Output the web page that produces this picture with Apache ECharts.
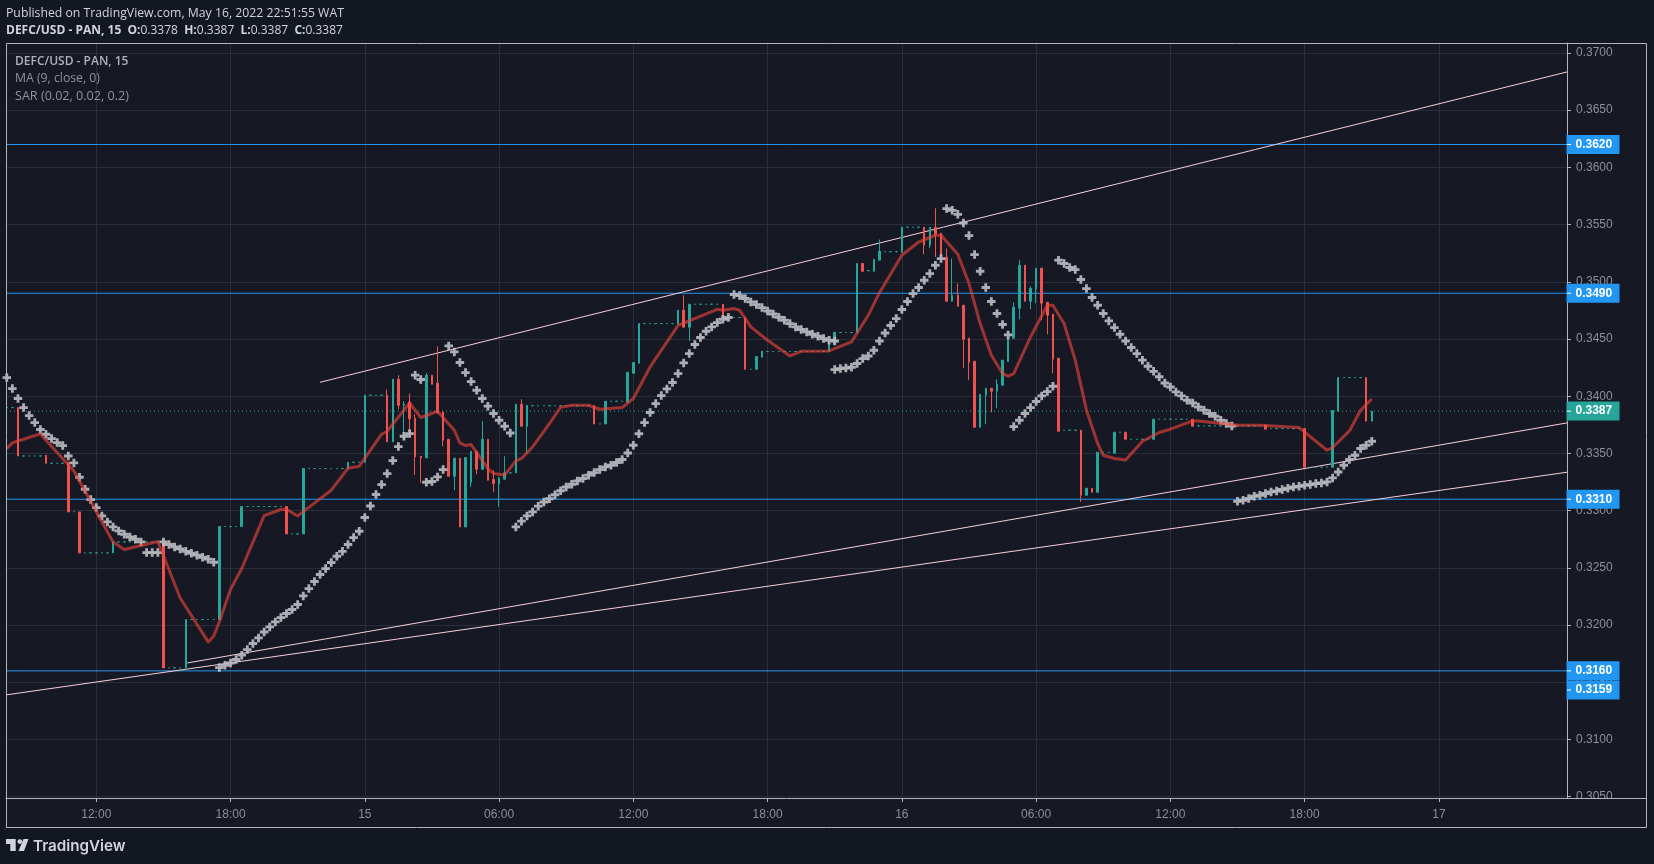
<!DOCTYPE html>
<html><head><meta charset="utf-8"><title>DEFC/USD</title>
<style>html,body{margin:0;padding:0;background:#131722}#c{width:1654px;height:864px}</style>
<script src="https://cdn.jsdelivr.net/npm/echarts@6/dist/echarts.min.js"></script></head>
<body><div id="c"></div>
<script>
// bar index 0 = the first 12:00 tick; one bar = 15 minutes
const xTickBars = [0,24,48,72,96,120,144,168,192,216,240];
const xTickLabels = ['12:00','18:00','15','06:00','12:00','18:00','16','06:00','12:00','18:00','17'];
const yTicks = [0.305,0.31,0.315,0.32,0.325,0.33,0.335,0.34,0.345,0.35,0.355,0.36,0.365,0.37];
const xMin = -16.14, xMax = 262.9, yMin = 0.30489, yMax = 0.37087;

// [bar, open, close, low, high]
const activeCandles = [
[-14,.33901,.33478,.33478,.33901],[-9,.33484,.33414,.33414,.33484],[-5,.33423,.32989,.32989,.33423],[-3,.32989,.32631,.32631,.32989],
[3,.32631,.32727,.32631,.32727],[12,.32727,.31626,.31626,.32727],[16,.31626,.32049,.31626,.32049],[22,.32049,.32861,.32049,.32861],
[26,.32861,.33036,.32861,.33036],[34,.33036,.32797,.32797,.33036],[37,.32797,.33368,.32797,.33368],[45,.33368,.33423,.33368,.33423],
[48,.33423,.34009,.33423,.34009],[52,.34009,.33601,.33601,.34059],[53,.33601,.34149,.33601,.34149],[54,.34149,.33921,.33886,.34184],
[55,.33924,.33932,.33615,.33956],[56,.33950,.33802,.33644,.34024],[57,.33808,.33470,.33312,.33843],[58,.33476,.33461,.33242,.33476],
[59,.33461,.34184,.33461,.34204],[60,.34184,.34105,.34105,.34184],[61,.34114,.33854,.33854,.34437],[62,.33863,.33615,.33563,.33863],
[63,.33624,.33301,.33301,.33624],[64,.33301,.33458,.33179,.33458],[65,.33458,.32858,.32858,.33458],[66,.32858,.33464,.32858,.33464],
[67,.33248,.33519,.33207,.33519],[68,.33519,.33362,.33318,.33519],[69,.33362,.33624,.33362,.33782],[70,.33624,.33266,.33266,.33624],
[71,.33272,.33237,.33161,.33353],[72,.33237,.33283,.33033,.33295],[73,.33275,.33330,.33275,.33476],[75,.33330,.33930,.33330,.33930],
[76,.33930,.33738,.33738,.33974],[77,.33738,.33921,.33499,.33921],[89,.33917,.33758,.33758,.33917],[91,.33758,.33956,.33758,.33956],
[95,.33948,.34210,.33948,.34210],[96,.34201,.34295,.34201,.34295],[97,.34288,.34635,.34288,.34635],[104,.34629,.34752,.34629,.34752],
[105,.34752,.34603,.34603,.34883],[106,.34603,.34804,.34483,.34804],[112,.34804,.34688,.34688,.34804],[116,.34688,.34236,.34236,.34688],
[118,.34236,.34347,.34230,.34347],[119,.34341,.34393,.34341,.34393],[131,.34391,.34475,.34391,.34475],[132,.34454,.34559,.34454,.34559],
[136,.34557,.35160,.34557,.35160],[137,.35160,.35092,.35092,.35160],[139,.35092,.35197,.35092,.35197],[140,.35189,.35267,.35189,.35369],
[144,.35258,.35477,.35258,.35477],[148,.35477,.35320,.35241,.35477],[149,.35320,.35477,.35293,.35477],[150,.35477,.35416,.35217,.35643],
[151,.35425,.35217,.35217,.35425],[152,.35215,.34830,.34830,.35291],[153,.34830,.34883,.34830,.35203],[154,.34883,.34787,.34787,.34985],
[155,.34795,.34498,.34245,.34795],[156,.34507,.34297,.34140,.34507],[157,.34306,.33729,.33729,.34306],[158,.33729,.34017,.33729,.34017],
[159,.34009,.34070,.33755,.34070],[160,.34070,.34044,.33860,.34070],[161,.34044,.34105,.33895,.34149],[162,.34096,.34315,.34096,.34315],
[163,.34303,.34498,.34303,.34498],[164,.34507,.34778,.34507,.34821],[165,.34769,.35145,.34673,.35189],[166,.35145,.34830,.34830,.35145],
[167,.34830,.34944,.34760,.34961],[168,.34935,.35119,.34813,.35119],[169,.35119,.34813,.34664,.35119],[170,.34821,.34708,.34542,.34821],
[171,.34717,.34323,.34201,.34717],[172,.34332,.33694,.33694,.34332],[176,.33703,.33135,.33076,.33703],[177,.33135,.33196,.33135,.33196],
[178,.33196,.33161,.33161,.33196],[179,.33161,.33511,.33161,.33511],[182,.33502,.33685,.33502,.33685],[184,.33685,.33624,.33624,.33685],
[189,.33624,.33799,.33624,.33799],[196,.33799,.33738,.33738,.33799],[209,.33747,.33712,.33712,.33747],[216,.33717,.33380,.33380,.33717],
[221,.33380,.33875,.33380,.33875],[222,.33869,.34163,.33869,.34163],[227,.34163,.33782,.33782,.34163],[228,.33782,.33869,.33782,.33869]
];
// bars with no trades: a flat dash at one price
const flatFrom = [-16,-13,-8,-4,-2,4,13,17,23,27,35,38,46,49,74,78,90,92,98,107,113,117,120,133,138,141,145,173,180,183,185,190,197,210,217,223];
const flatTo   = [-15,-10,-6,-4,2,11,15,21,25,33,36,44,47,51,74,88,90,94,103,111,115,117,130,135,138,143,147,175,181,183,188,195,208,215,220,226];
const flatPrice = [.33901,.33478,.33414,.32991,.32631,.32727,.31626,.32049,.32861,.33036,.32797,.33368,.33423,.34009,.33330,.33917,.33758,.33956,.34635,.34804,.34688,.34236,.34391,.34557,.35097,.35263,.35477,.33703,.33511,.33685,.33624,.33799,.33741,.33717,.33380,.34163];

// MA (9, close, 0), vertices of the drawn line
const maBars = [-16,-15,-14,-10,-4,3,5,11,15,20,21,22,24,26,30,33,34,36,42,45,47,51,52,56,58,61,64,65,66,67,70,71,73,75,76,78,81,83,85,88,90,94,96,99,104,111,112,114,115,117,120,124,126,131,135,138,140,144,147,150,151,154,156,158,160,162,163,164,167,170,171,173,175,177,179,180,182,184,187,190,192,196,197,204,208,215,220,221,224,226,228];
const maValues = [.33543,.33592,.33609,.33671,.33347,.32727,.32660,.32730,.32237,.31853,.31905,.32028,.32313,.32494,.32957,.33010,.33012,.32954,.33179,.33371,.33388,.33668,.33694,.33941,.33814,.33869,.33703,.33592,.33569,.33578,.33368,.33324,.33312,.33435,.33456,.33557,.33761,.33904,.33921,.33921,.33886,.33901,.33980,.34256,.34620,.34760,.34752,.34766,.34752,.34606,.34489,.34352,.34393,.34396,.34475,.34708,.34905,.35232,.35348,.35407,.35407,.35241,.34985,.34635,.34358,.34198,.34175,.34198,.34518,.34795,.34795,.34635,.34315,.33878,.33587,.33484,.33456,.33443,.33607,.33683,.33712,.33784,.33784,.33747,.33747,.33726,.33528,.33552,.33697,.33878,.33976];

// SAR (0.02, 0.02, 0.2): one list per run, each run starts at its bar
const sarStarts = [-16,9,12,22,57,59,63,75,114,132,152,164,172,204];
const sarRun1 = [.34163,.34067,.33980,.33901,.33831,.33770,.33709,.33668,.33630,.33595,.33569,.33478,.33417,.33292,.33187,.33097,.33027,.32954,.32902,.32858,.32823,.32794,.32770,.32750,.32727];
const sarRun2 = [.32634,.32634,.32634];
const sarRun3 = [.32727,.32704,.32683,.32666,.32645,.32628,.32611,.32593,.32576,.32549];
const sarRun4 = [.31629,.31649,.31669,.31699,.31737,.31786,.31839,.31888,.31940,.31984,.32028,.32066,.32101,.32136,.32180,.32255,.32319,.32381,.32442,.32494,.32547,.32602,.32645,.32704,.32765,.32820,.32940,.33041,.33141,.33228,.33324,.33438,.33560,.33650,.33674];
const sarRun5 = [.34184,.34146];
const sarRun6 = [.33248,.33255,.33295,.33359];
const sarRun7 = [.34440,.34387,.34295,.34207,.34128,.34052,.33980,.33913,.33849,.33790,.33738,.33679];
const sarRun8 = [.32858,.32908,.32954,.32989,.33039,.33076,.33104,.33139,.33174,.33207,.33231,.33260,.33281,.33310,.33333,.33359,.33382,.33397,.33421,.33447,.33504,.33572,.33672,.33770,.33858,.33936,.34006,.34064,.34120,.34198,.34291,.34373,.34452,.34513,.34568,.34606,.34644,.34673,.34688];
const sarRun9 = [.34889,.34880,.34854,.34824,.34801,.34775,.34745,.34719,.34690,.34664,.34635,.34606,.34583,.34562,.34542,.34524,.34504,.34489,.34483];
const sarRun10 = [.34233,.34242,.34247,.34253,.34286,.34329,.34352,.34402,.34483,.34553,.34618,.34679,.34758,.34828,.34897,.34950,.35014,.35072,.35145,.35203];
const sarRun11 = [.35640,.35625,.35590,.35514,.35404,.35238,.35092,.34950,.34828,.34723,.34627,.34536];
const sarRun12 = [.33735,.33790,.33849,.33901,.33954,.34003,.34041,.34087];
const sarRun13 = [.35189,.35160,.35125,.35107,.35020,.34941,.34863,.34795,.34723,.34658,.34600,.34542,.34483,.34426,.34373,.34315,.34262,.34218,.34170,.34116,.34081,.34038,.34003,.33965,.33941,.33906,.33878,.33849,.33825,.33790,.33761,.33740];
const sarRun14 = [.33082,.33091,.33106,.33126,.33135,.33150,.33164,.33172,.33185,.33196,.33207,.33213,.33222,.33228,.33237,.33242,.33251,.33286,.33338,.33397,.33447,.33484,.33543,.33572,.33607];

// drawn trend lines: [startBar, startPrice, endBar, endPrice]
const trendUpper = [40,.34122,262.9,.36834];
const trendMiddle = [16.27,.31669,262.9,.33767];
const trendLower = [-16.14,.31390,262.9,.33336];
const levelPrices = [.362,.349,.331,.316];
const lastPrice = .3387;
const tagPrices = [.362,.349,.3387,.331,.316,.3159];

const TEAL='#26a69a', RED='#ef5350', BLUE='#2196f3', TXT='#8c8f97', FRAME='#b2b5be', GRIDC='#2a2e39', OUT='#131722', IN='#161924', SANS='"Open Sans"', AX='"Liberation Sans"';

const candleRows = activeCandles.slice();
flatFrom.forEach((f,i)=>{ for(let k=f;k<=flatTo[i];k++) candleRows.push([k,flatPrice[i],flatPrice[i],flatPrice[i],flatPrice[i]]); });
candleRows.sort((a,b)=>a[0]-b[0]);

const sarRuns = [sarRun1,sarRun2,sarRun3,sarRun4,sarRun5,sarRun6,sarRun7,sarRun8,sarRun9,sarRun10,sarRun11,sarRun12,sarRun13,sarRun14];
const sarPoints = [];
sarRuns.forEach((r,i)=>r.forEach((v,j)=>sarPoints.push([sarStarts[i]+j,v])));

const trendSeries = [trendUpper,trendMiddle,trendLower].map(t=>({type:'line',z:3,silent:true,symbol:'none',animation:false,
  data:[[t[0],t[1]],[t[2],t[3]]],lineStyle:{color:'#f7d0d8',width:1}}));
const levelSeries = levelPrices.map(p=>({type:'line',z:2,silent:true,symbol:'none',animation:false,
  data:[[xMin,p],[xMax,p]],lineStyle:{color:BLUE,width:1}}));

const tagShift = p=>p===.3159?18:0;
const opt = {
  animation:false, backgroundColor:OUT,
  grid:{left:6,top:43,width:1561,height:755,show:false},
  xAxis:{type:'value',min:xMin,max:xMax,position:'bottom',
    axisLine:{show:true,onZero:false,lineStyle:{color:FRAME,width:1}},
    axisTick:{show:true,length:4,lineStyle:{color:FRAME},customValues:xTickBars},
    axisLabel:{customValues:xTickBars,margin:11,color:TXT,fontFamily:AX,fontSize:12,hideOverlap:false,
      formatter:v=>xTickLabels[xTickBars.indexOf(v)]||''},
    splitLine:{show:true,lineStyle:{color:GRIDC,width:1}}},
  yAxis:{type:'value',min:yMin,max:yMax,position:'right',
    axisLine:{show:true,onZero:false,lineStyle:{color:FRAME,width:1}},
    axisTick:{show:true,length:4,lineStyle:{color:FRAME},customValues:yTicks},
    axisLabel:{customValues:yTicks,margin:9,color:TXT,fontFamily:AX,fontSize:12,hideOverlap:false,formatter:v=>v.toFixed(4)},
    splitLine:{show:true,lineStyle:{color:GRIDC,width:1}}},
  series:[
    ...levelSeries,
    {type:'line',z:2,silent:true,symbol:'none',animation:false,data:[[xMin,lastPrice],[xMax,lastPrice]],
      lineStyle:{color:TEAL,width:1,type:[1,3]}},
    {type:'candlestick',z:4,silent:true,animation:false,large:false,barWidth:2,data:candleRows,
      itemStyle:{color:TEAL,color0:RED,borderColor:TEAL,borderColor0:RED,borderColorDoji:TEAL,borderWidth:1}},
    ...trendSeries,
    {type:'scatter',z:5,silent:true,animation:false,data:sarPoints,symbol:'path://M3 0H6V3H9V6H6V9H3V6H0V3H3Z',symbolSize:8.5,
      itemStyle:{color:'rgba(190,190,196,0.9)',opacity:1}},
    {type:'line',z:6,silent:true,animation:false,symbol:'none',smooth:false,data:maBars.map((b,i)=>[b,maValues[i]]),
      lineStyle:{color:'rgba(239,68,60,0.62)',width:3,join:'round'}},
    {type:'scatter',z:8,silent:true,animation:false,clip:false,symbol:'rect',symbolSize:1,itemStyle:{color:'rgba(0,0,0,0)',opacity:1},
      data:tagPrices.map(p=>({value:[xMax,p],label:{show:true,position:'right',distance:0,offset:[-1,tagShift(p)],
        formatter:p.toFixed(4),backgroundColor:p===lastPrice?TEAL:BLUE,color:'#fff',fontFamily:AX,fontSize:12,fontWeight:'bold',
        padding:[3,8,3,9],width:36,height:13,lineHeight:13,align:'left',verticalAlign:'middle'}}))},
    {type:'scatter',z:9,silent:true,animation:false,clip:false,symbol:'rect',
      data:tagPrices.map(p=>({value:[xMax,p],symbolSize:[4,1],symbolOffset:[2,tagShift(p)],itemStyle:{color:'#fff',opacity:1}}))}
  ],
  graphic:[
    {type:'rect',z:-1,silent:true,shape:{x:6,y:43,width:1641,height:784},style:{fill:IN}},
    {type:'rect',z:20,silent:true,shape:{x:1568,y:798,width:79,height:29},style:{fill:IN}},
    {type:'line',z:21,silent:true,shape:{x1:1567,y1:798.5,x2:1647,y2:798.5},style:{stroke:FRAME,lineWidth:1}},
    {type:'rect',z:21,silent:true,shape:{x:6.5,y:43.5,width:1640,height:784},style:{fill:'none',stroke:FRAME,lineWidth:1}},
    {type:'text',z:22,silent:true,x:6,y:8,style:{text:'Published on TradingView.com, May 16, 2022 22:51:55 WAT',fill:'#d1d4dc',font:'12.25px '+SANS}},
    {type:'text',z:22,silent:true,x:6,y:25,style:{
      text:'{b|DEFC/USD - PAN, 15}  {b|O:}{n|0.3378}  {b|H:}{n|0.3387}  {b|L:}{n|0.3387}  {b|C:}{n|0.3387}',
      fill:'#d1d4dc',font:'12px '+SANS,rich:{b:{fontWeight:'bold',fontFamily:SANS,fontSize:12,fill:'#d1d4dc'},n:{fontFamily:SANS,fontSize:12,fill:'#d1d4dc'}}}},
    {type:'text',z:22,silent:true,x:15,y:56,style:{text:'DEFC/USD - PAN, 15',fill:'#aeb1ba',font:'600 12px '+SANS}},
    {type:'text',z:22,silent:true,x:15,y:73,style:{text:'MA (9, close, 0)',fill:'#8f929b',font:'12.25px '+SANS}},
    {type:'text',z:22,silent:true,x:15,y:90,style:{text:'SAR (0.02, 0.02, 0.2)',fill:'#8f929b',font:'12.6px '+SANS}},
    {type:'polygon',z:22,silent:true,shape:{points:[[15.7,839],[6,839],[6,844],[10.3,844],[10.3,851],[15.7,851]]},style:{fill:'#d1d4dc'}},
    {type:'polygon',z:22,silent:true,shape:{points:[[24,851],[18.5,851],[23.5,839],[28.5,839]]},style:{fill:'#d1d4dc'}},
    {type:'circle',z:22,silent:true,shape:{cx:19.8,cy:841.6,r:2.4},style:{fill:'#d1d4dc'}},
    {type:'text',z:22,silent:true,x:33,y:838.5,style:{text:'TradingView',fill:'#d1d4dc',font:'600 15.2px Inter'}}
  ]
};
const chart = echarts.init(document.getElementById('c'),null,{renderer:'canvas',width:1654,height:864});
chart.setOption(opt);
</script></body></html>
